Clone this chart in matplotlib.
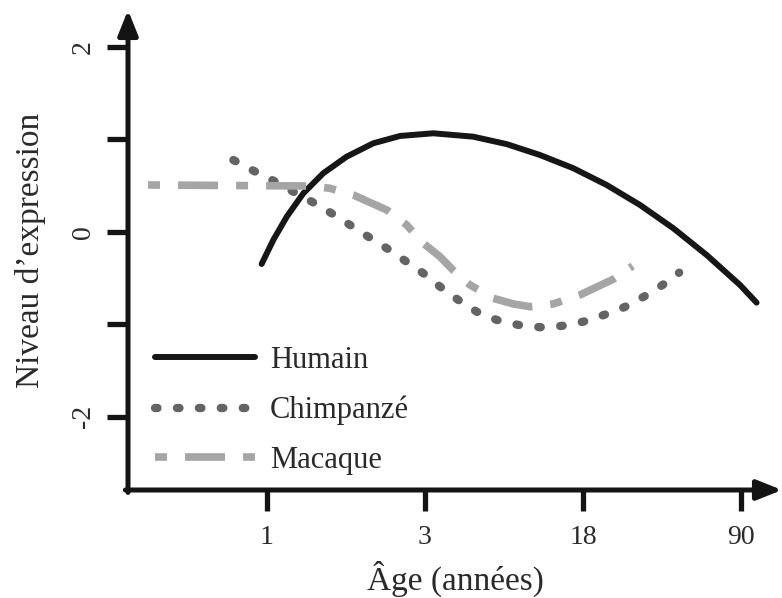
import numpy as np
import matplotlib
matplotlib.use("Agg")
import matplotlib.pyplot as plt

plt.rcParams['font.family'] = ['Liberation Serif', 'DejaVu Serif']
plt.rcParams['lines.scale_dashes'] = False

# x axis is ordinal: ticks 1, 3, 18, 90 years equally spaced
age_ticks = [0, 1, 2, 3]
age_labels = ['1', '3', '18', '90']

# curves (x in tick units, y = expression level)
humain_x = [-0.034, 0.040, 0.125, 0.230, 0.356, 0.504, 0.673, 0.842, 1.053,
            1.306, 1.517, 1.728, 1.939, 2.150, 2.361, 2.572, 2.783, 2.994, 3.099]
humain_y = [-0.346, -0.086, 0.165, 0.418, 0.635, 0.814, 0.959, 1.038, 1.067,
            1.030, 0.950, 0.832, 0.689, 0.508, 0.292, 0.040, -0.249, -0.573, -0.764]

chimp_x = [-0.213, -0.087, 0.040, 0.166, 0.283, 0.409, 0.525, 0.641, 0.758,
           0.873, 0.989, 1.095, 1.211, 1.327, 1.454, 1.591, 1.728, 1.865,
           2.002, 2.133, 2.261, 2.386, 2.504, 2.609]
chimp_y = [0.778, 0.663, 0.555, 0.436, 0.328, 0.202, 0.076, -0.051, -0.176,
           -0.310, -0.446, -0.591, -0.735, -0.862, -0.951, -1.005, -1.030, -1.016,
           -0.970, -0.897, -0.814, -0.699, -0.573, -0.440]

macaque_x = [-0.753, -0.108, 0.272, 0.399, 0.546, 0.758, 0.884, 0.987, 1.095,
             1.177, 1.285, 1.432, 1.559, 1.665, 1.812, 1.981, 2.192, 2.315]
macaque_y = [0.508, 0.501, 0.497, 0.472, 0.400, 0.238, 0.076, -0.119, -0.267,
             -0.411, -0.573, -0.717, -0.778, -0.808, -0.778, -0.681, -0.511, -0.368]

fig = plt.figure(figsize=(7.82, 5.98), dpi=100)
ax = fig.add_axes([128 / 782, 108 / 598, 654 / 782, 480 / 598])
ax.set_xlim(-0.88, 3.26)
ax.set_ylim(-2.79, 2.40)

txt = '#2a2a2a'
axc = '#141414'

ax.plot(humain_x, humain_y, color='#161616', lw=4.3, solid_capstyle='round',
        solid_joinstyle='round', label='Humain')
ax.plot(chimp_x, chimp_y, color='#646464', lw=6.0, dash_capstyle='round',
        linestyle=(0, (1.8, 14.0)), label='Chimpanzé')
ax.plot(macaque_x, macaque_y, color='#a5a5a5', lw=5.5, dash_capstyle='butt',
        linestyle=(0, (8.6, 13, 28.8, 13)), label='Macaque')

for s in ax.spines.values():
    s.set_visible(False)

# axes with arrow heads
arrow = dict(arrowstyle='-|>,head_length=1.5,head_width=0.6', lw=3.6,
             color=axc, shrinkA=0, shrinkB=0)
ax.annotate('', xy=(1.0, 0), xytext=(-0.004, 0), xycoords='axes fraction',
            arrowprops=arrow)
ax.annotate('', xy=(0, 1.0), xytext=(0, -0.005), xycoords='axes fraction',
            arrowprops=arrow)

ax.set_xticks(age_ticks)
ax.set_xticklabels(age_labels, fontsize=20, color=txt)
ax.set_yticks([-2, -1, 0, 1, 2])
ax.set_yticklabels(['-2', '', '0', '', '2'], fontsize=20, color=txt,
                   rotation=90, va='center')
ax.tick_params(axis='x', direction='out', length=15, width=3.8, color=axc, pad=10)
ax.tick_params(axis='y', direction='out', length=15, width=3.8, color=axc, pad=8)

ax.set_xlabel('Âge (années)', fontsize=24, color=txt, labelpad=8)
ax.set_ylabel('Niveau d’expression', fontsize=24, color=txt, labelpad=18)

ax.legend(loc='upper left', bbox_to_anchor=(0.041, 0.30), frameon=False,
          fontsize=22, handlelength=3.27, handletextpad=0.5, labelspacing=0.68,
          borderpad=0, borderaxespad=0, labelcolor=txt)

fig.savefig('out.png', dpi=100)
